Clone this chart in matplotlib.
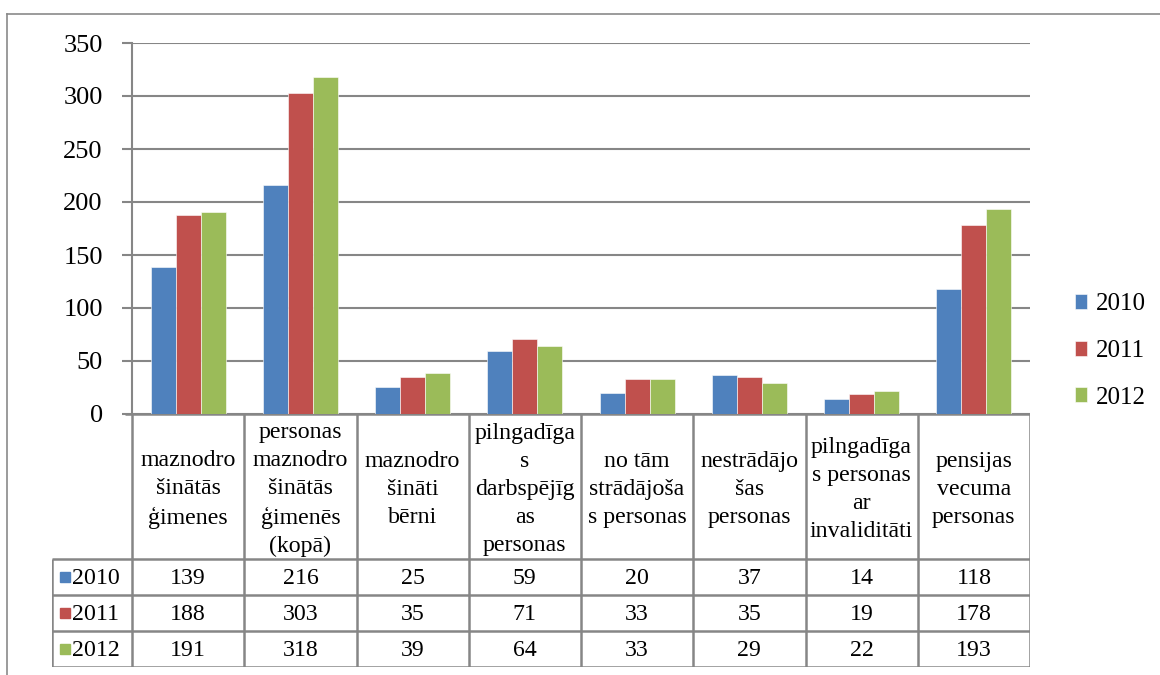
import matplotlib
matplotlib.use('Agg')
import matplotlib.pyplot as plt
import numpy as np

# ── Data ──────────────────────────────────────────────────────────────────────
categories = [
    "maznodro\nšinātās\nģimenes",
    "personas\nmaznodro\nšinātās\nģimenēs\n(kopā)",
    "maznodro\nšināti\nbērni",
    "pilngadīga\ns\ndarbspējīg\nas\npersonas",
    "no tām\nstrādājoša\ns personas",
    "nestrādājo\nšas\npersonas",
    "pilngadīga\ns personas\nar\ninvaliditāti",
    "pensijas\nvecuma\npersonas",
]
years = ["2010", "2011", "2012"]
v2010 = [139, 216, 25, 59, 20, 37, 14, 118]
v2011 = [188, 303, 35, 71, 33, 35, 19, 178]
v2012 = [191, 318, 39, 64, 33, 29, 22, 193]
yticks = [0, 50, 100, 150, 200, 250, 300, 350]

# ── Style ─────────────────────────────────────────────────────────────────────
COLORS = ["#4F81BD", "#C0504D", "#9BBB59"]
GRID   = "#868686"
plt.rcParams["font.family"] = ["Liberation Serif", "DejaVu Serif"]

W, H = 1160, 675
fig = plt.figure(figsize=(W / 100, H / 100), dpi=100)

def px_axes(x0, y0, x1, y1):
    # pixel box (top-left origin) -> figure axes
    return fig.add_axes([x0 / W, 1 - y1 / H, (x1 - x0) / W, (y1 - y0) / H])

# outer chart frame
fig.add_artist(plt.Line2D([7 / W, 1], [1 - 14 / H, 1 - 14 / H], color="#8a8a8a", lw=1.2))
fig.add_artist(plt.Line2D([7 / W, 7 / W], [0, 1 - 14 / H], color="#8a8a8a", lw=1.2))

# ── Bar chart ─────────────────────────────────────────────────────────────────
PL, PR, PT, PB = 132, 1030, 43, 414
ax = px_axes(PL, PT, PR, PB)
n = len(categories)
x = np.arange(n)
bw = 0.223
series = [v2010, v2011, v2012]
for i, (vals, c, lab) in enumerate(zip(series, COLORS, years)):
    ax.bar(x + (i - 1) * bw, vals, width=bw, color=c, edgecolor="white",
           linewidth=0.4, label=lab, zorder=3)

ax.set_xlim(-0.5, n - 0.5)
ax.set_ylim(0, 350)
ax.set_yticks(yticks)
ax.set_yticklabels([str(t) for t in yticks], fontsize=19)
ax.tick_params(axis="y", length=7, width=1.5, color=GRID, pad=14)
ax.set_xticks([])
ax.yaxis.grid(True, color=GRID, lw=1.5, zorder=0)
for s in ["top", "right"]:
    ax.spines[s].set_visible(False)
ax.spines["left"].set_color(GRID)
ax.spines["left"].set_linewidth(1.5)
ax.spines["bottom"].set_visible(False)

# legend
leg = fig.legend(loc="center left", bbox_to_anchor=(1062 / W, 1 - 351 / H),
                 frameon=False, fontsize=18, handlelength=0.5, handleheight=0.55,
                 handletextpad=0.35, labelspacing=0.98, borderpad=0)

# ── Data table ────────────────────────────────────────────────────────────────
TL, TB = 52, 667
hdr_h = 145
row_h = (TB - PB - hdr_h) / 3
cat_w = (PR - PL) / n
lab_w = (PL - TL) / cat_w
tx = px_axes(TL, PB, PR, TB)
tx.set_xlim(-0.5 - lab_w, n - 0.5)
tx.set_ylim(TB - PB, 0)
tx.axis("off")

lc = dict(color=GRID, lw=1.8, solid_capstyle="butt")
tx.plot([-0.5 - 7 / cat_w, n - 0.5], [0, 0], **lc)          # x axis
for k in range(4):
    yy = hdr_h + k * row_h
    tx.plot([-0.5 - lab_w, n - 0.5], [yy, yy], **lc)
for j in range(n + 1):
    tx.plot([j - 0.5, j - 0.5], [0, TB - PB], **lc)
tx.plot([-0.5 - lab_w, -0.5 - lab_w], [hdr_h, TB - PB], **lc)

for j, cat in enumerate(categories):
    tx.text(j, hdr_h / 2 + 3, cat, ha="center", va="center", fontsize=17.2,
            linespacing=1.45)
for k, (vals, c, lab) in enumerate(zip(series, COLORS, years)):
    yc = hdr_h + (k + 0.5) * row_h
    tx.add_patch(plt.Rectangle((-0.5 - lab_w + 8 / cat_w, yc - 5), 10 / cat_w, 10,
                               color=c, clip_on=False))
    tx.text(-0.5 - lab_w + 20 / cat_w, yc + 1, lab, ha="left", va="center", fontsize=17.2)
    for j, v in enumerate(vals):
        tx.text(j, yc + 1, str(v), ha="center", va="center", fontsize=17.2)

fig.savefig("out.png", dpi=100, facecolor="white")
